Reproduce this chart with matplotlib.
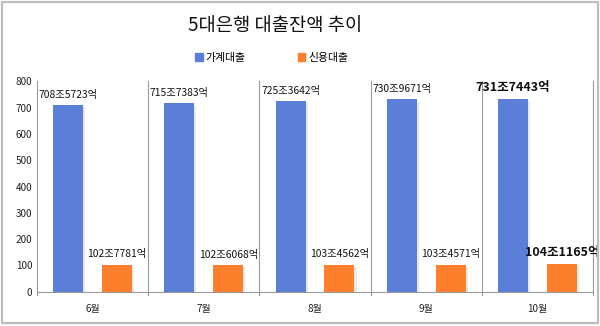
import matplotlib
matplotlib.use("Agg")
import matplotlib.pyplot as plt
import matplotlib.patheffects as pe
from matplotlib.patches import Patch
import numpy as np

plt.rcParams['font.family'] = ['Noto Sans CJK KR', 'DejaVu Sans']

# 월별 대출잔액 (조원)
months = ['6월', '7월', '8월', '9월', '10월']
household = [708.5723, 715.7383, 725.3642, 730.9671, 731.7443]
credit = [102.7781, 102.6068, 103.4562, 103.4571, 104.1165]
household_lbl = ['708조5723억', '715조7383억', '725조3642억', '730조9671억', '731조7443억']
credit_lbl = ['102조7781억', '102조6068억', '103조4562억', '103조4571억', '104조1165억']

blue = '#5b7fd8'
orange = '#fd7f2c'

fig = plt.figure(figsize=(6, 3.26), dpi=100)
fig.patches.append(plt.Rectangle((0.004, 0.008), 0.992, 0.986, transform=fig.transFigure,
                                 fill=False, edgecolor='#bdbdbd', linewidth=1.6))
ax = fig.add_axes([0.0617, 0.105, 0.9266, 0.6456])

x = np.arange(len(months))
w = 0.27
shadow = [pe.SimplePatchShadow(offset=(1.5, -1.5), shadow_rgbFace='#888888', alpha=0.18), pe.Normal()]
b1 = ax.bar(x - 0.22, household, w, color=blue)
b2 = ax.bar(x + 0.22, credit, w, color=orange)
for p in list(b1) + list(b2):
    p.set_path_effects(shadow)

for i in range(len(months)):
    big = (i == len(months) - 1)
    kw = dict(fontsize=9 if big else 7.4, fontweight='bold' if big else 'normal',
              ha='center', va='bottom', color='#111111')
    ax.text(x[i] - 0.22, household[i] + 20, household_lbl[i], **kw)
    ax.text(x[i] + 0.22, credit[i] + 20, credit_lbl[i], **kw)

ax.set_ylim(0, 800)
ax.set_xlim(-0.5, len(months) - 0.5)
ax.set_yticks(range(0, 801, 100))
ax.set_xticks(x)
ax.set_xticklabels(months)
ax.tick_params(axis='both', length=0, labelsize=7.2, colors='#222222')
ax.tick_params(axis='x', pad=9)
ax.tick_params(axis='y', pad=3.5)

for s in ['top', 'right', 'left']:
    ax.spines[s].set_visible(False)
ax.spines['bottom'].set_color('#9a9a9a')

# 월 구분선
for b in np.arange(-0.5, len(months), 1.0):
    ax.axvline(b, ymin=-0.015, ymax=1.0, color='#9a9a9a', linewidth=0.8, clip_on=False)

fig.text(0.458, 0.922, '5대은행 대출잔액 추이', ha='center', va='center', fontsize=13.5, color='#111111')
handles = [Patch(color=blue), Patch(color=orange)]
fig.legend(handles=handles, labels=['가계대출', '신용대출'], loc='center', bbox_to_anchor=(0.453, 0.822),
           ncol=2, frameon=False, fontsize=7.8, handlelength=0.7, handleheight=0.7,
           handletextpad=0.3, columnspacing=4.8)

fig.savefig('out.png', dpi=100)
